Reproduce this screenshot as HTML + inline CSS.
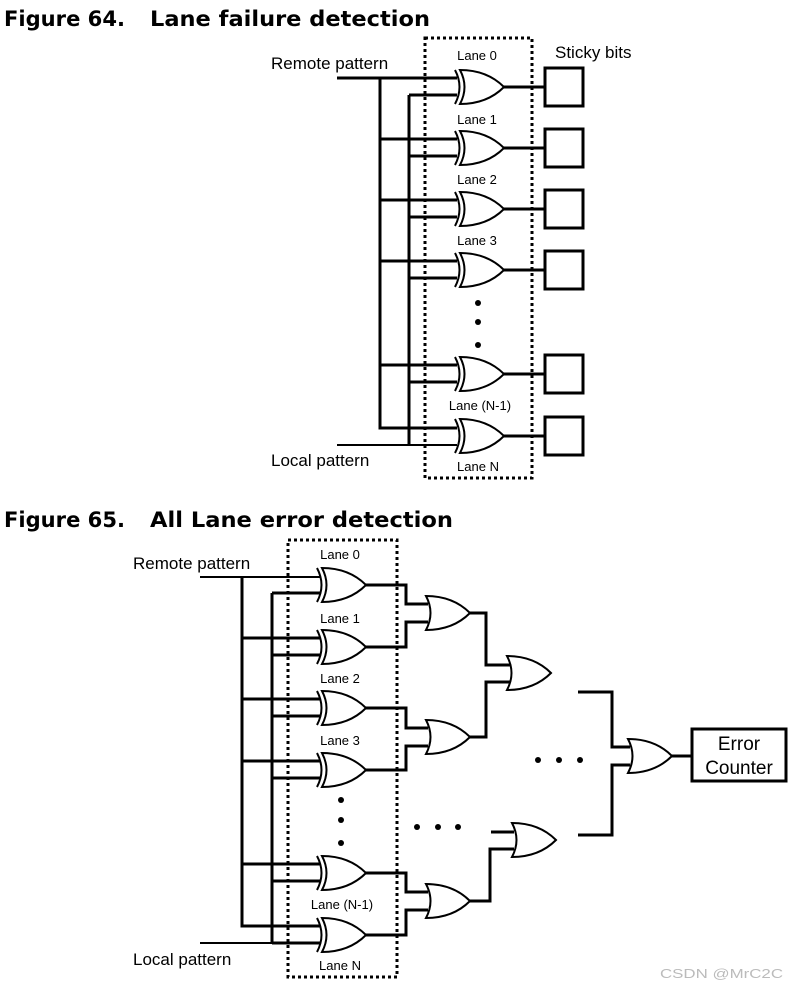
<!DOCTYPE html>
<html><head><meta charset="utf-8"><style>
html,body{margin:0;padding:0;background:#fff}
svg{display:block}
.t{font-family:"DejaVu Sans",Verdana,sans-serif;font-weight:bold;font-size:21px}
.l{font-family:"Liberation Sans",Arial,sans-serif;font-size:13px}
.p{font-family:"Liberation Sans",Arial,sans-serif;font-size:17px}
</style></head><body>
<svg width="791" height="988" viewBox="0 0 791 988" xmlns="http://www.w3.org/2000/svg">
<defs>
<g id="or"><path d="M0,0 Q27,0 44,17 Q27,34 0,34 Q9,17 0,0 Z" fill="#fff" stroke="#000" stroke-width="2"/></g>
<g id="xor"><path d="M0,0 Q27,0 44,17 Q27,34 0,34 Q9,17 0,0 Z" fill="#fff" stroke="#000" stroke-width="2"/><path d="M-5,0 Q4,17 -5,34" fill="none" stroke="#000" stroke-width="2"/></g>
</defs>
<text class="t" x="4" y="26" textLength="121" lengthAdjust="spacingAndGlyphs">Figure 64.</text>
<text class="t" x="150" y="26" textLength="280" lengthAdjust="spacingAndGlyphs">Lane failure detection</text>
<text class="t" x="4" y="527" textLength="121" lengthAdjust="spacingAndGlyphs">Figure 65.</text>
<text class="t" x="150" y="527" textLength="303" lengthAdjust="spacingAndGlyphs">All Lane error detection</text>

<!-- Figure 64 -->
<rect x="425" y="38" width="107" height="440" fill="none" stroke="#000" stroke-width="3" stroke-dasharray="3,3"/>
<g stroke="#000" stroke-width="3" fill="none">
<path d="M337,78 H457"/>
<path d="M380,78 V428 H457"/>
<path d="M337,445 H457" stroke-width="2"/>
<path d="M409,95 V445"/>
<path d="M380,139 H457 M380,200 H457 M380,261 H457 M380,365 H457"/>
<path d="M409,95 H457 M409,156 H457 M409,217 H457 M409,278 H457 M409,382 H457"/>
<path d="M503,87 H545 M503,148 H545 M503,209 H545 M503,270 H545 M503,374 H545 M503,436 H545"/>
<rect x="545" y="68" width="38" height="38"/><rect x="545" y="129" width="38" height="38"/><rect x="545" y="190" width="38" height="38"/><rect x="545" y="251" width="38" height="38"/><rect x="545" y="355" width="38" height="38"/><rect x="545" y="417" width="38" height="38"/>
</g>
<use href="#xor" x="460" y="70"/><use href="#xor" x="460" y="131"/><use href="#xor" x="460" y="192"/><use href="#xor" x="460" y="253"/><use href="#xor" x="460" y="357"/><use href="#xor" x="460" y="419"/>
<circle cx="478" cy="303" r="3"/><circle cx="478" cy="322" r="3"/><circle cx="478" cy="345" r="3"/>
<g class="l" text-anchor="middle"><text x="477" y="60">Lane 0</text><text x="477" y="124">Lane 1</text><text x="477" y="184">Lane 2</text><text x="477" y="245">Lane 3</text><text x="480" y="410">Lane (N-1)</text><text x="478" y="471">Lane N</text></g>
<text class="p" x="271" y="69">Remote pattern</text>
<text class="p" x="271" y="466">Local pattern</text>
<text class="p" x="555" y="58">Sticky bits</text>

<!-- Figure 65 -->
<rect x="288" y="540" width="109" height="437" fill="none" stroke="#000" stroke-width="3" stroke-dasharray="3,3"/>
<g stroke="#000" stroke-width="3" fill="none">
<path d="M200,577 H320" stroke-width="2"/>
<path d="M242,577 V926 H320"/>
<path d="M200,943 H272" stroke-width="2"/><path d="M272,943 H320"/>
<path d="M272,593 V943"/>
<path d="M242,638 H320 M242,699 H320 M242,761 H320 M242,864 H320"/>
<path d="M272,593 H320 M272,655 H320 M272,716 H320 M272,778 H320 M272,881 H320"/>
<path d="M365,585 H406 V604 H428 M365,647 H406 V622 H428"/>
<path d="M365,708 H406 V728 H428 M365,770 H406 V746 H428"/>
<path d="M365,873 H406 V892 H428 M365,935 H406 V910 H428"/>
<path d="M469,613 H486 V665 H510 M469,737 H486 V682 H510"/>
<path d="M491,832 H514 M469,901 H490 V849 H514"/>
<path d="M578,692 H612 V747 H630 M578,835 H612 V765 H630"/>
<path d="M672,756 H692"/>
<rect x="692" y="729" width="94" height="52"/>
</g>
<use href="#xor" x="322" y="568"/><use href="#xor" x="322" y="630"/><use href="#xor" x="322" y="691"/><use href="#xor" x="322" y="753"/><use href="#xor" x="322" y="856"/><use href="#xor" x="322" y="918"/>
<use href="#or" x="426" y="596"/><use href="#or" x="426" y="720"/><use href="#or" x="426" y="884"/>
<use href="#or" x="507" y="656"/><use href="#or" x="512" y="823"/><use href="#or" x="628" y="739"/>
<circle cx="341" cy="800" r="3"/><circle cx="341" cy="820" r="3"/><circle cx="341" cy="843" r="3"/>
<circle cx="417" cy="827" r="3"/><circle cx="438" cy="827" r="3"/><circle cx="458" cy="827" r="3"/>
<circle cx="538" cy="760" r="3"/><circle cx="559" cy="760" r="3"/><circle cx="580" cy="760" r="3"/>
<g class="l" text-anchor="middle"><text x="340" y="559">Lane 0</text><text x="340" y="623">Lane 1</text><text x="340" y="683">Lane 2</text><text x="340" y="745">Lane 3</text><text x="342" y="909">Lane (N-1)</text><text x="340" y="970">Lane N</text></g>
<text class="p" x="133" y="569">Remote pattern</text>
<text class="p" x="133" y="965">Local pattern</text>
<text x="739" y="750" text-anchor="middle" style="font-family:'Liberation Sans',Arial,sans-serif;font-size:19px">Error</text>
<text x="739" y="774" text-anchor="middle" style="font-family:'Liberation Sans',Arial,sans-serif;font-size:19px">Counter</text>
<text x="660" y="978" textLength="123" lengthAdjust="spacingAndGlyphs" style="font-family:'Liberation Sans',Arial,sans-serif;font-size:13px" fill="#bbb">CSDN @MrC2C</text>
</svg>
</body></html>
